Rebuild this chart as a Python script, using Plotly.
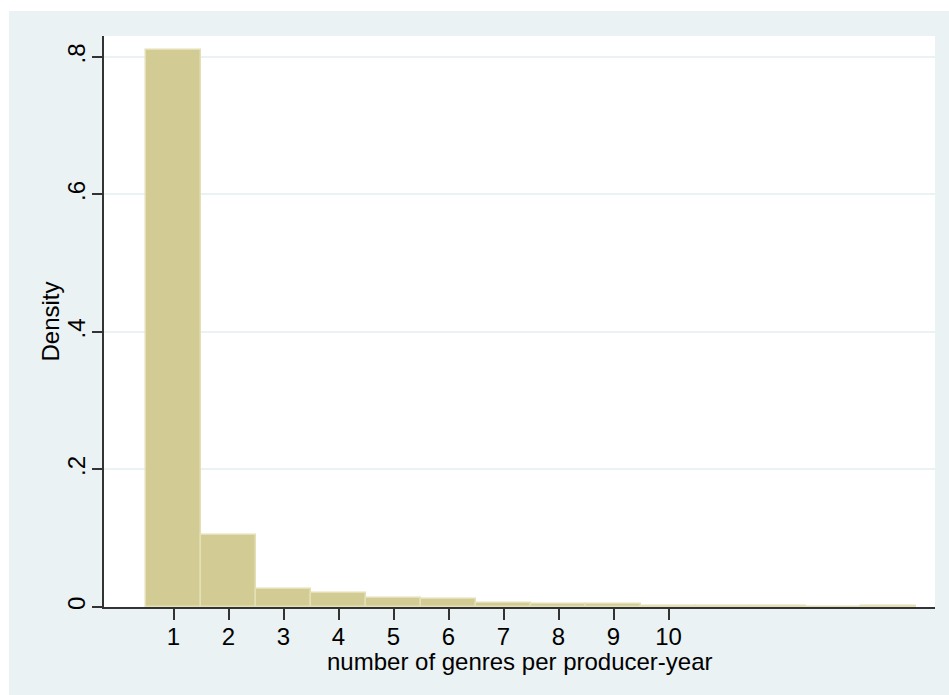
import plotly.graph_objects as go

# Histogram bins (number of genres) and densities
genres = [1, 2, 3, 4, 5, 6, 7, 8, 9, 10, 11, 12, 13, 14]
density = [0.810, 0.105, 0.0257, 0.0204, 0.0132, 0.0116, 0.0055, 0.0040, 0.0040,
           0.0020, 0.0020, 0.0020, 0.0, 0.0020]

x_tickvals = [1, 2, 3, 4, 5, 6, 7, 8, 9, 10]
x_ticktext = ["1", "2", "3", "4", "5", "6", "7", "8", "9", "10"]
y_tickvals = [0, 0.2, 0.4, 0.6, 0.8]
y_ticktext = ["0", ".2", ".4", ".6", ".8"]

x_title = "number of genres per producer-year"
y_title = "Density"

FONT = "Liberation Sans, Arial, Helvetica, sans-serif"
TEAL = "#EAF2F3"
AXIS = "#333333"
FS = 24

W, H = 949, 695
L = 104
T = 36
R = W - 935
B = H - 607
pw = W - L - R
ph = H - T - B


def px_to_paper_x(sx):
    return (sx - L) / pw


def px_to_paper_y(sy):
    return (H - B - sy) / ph


fig = go.Figure()
fig.add_trace(go.Bar(
    x=genres, y=density, width=1.0,
    marker=dict(color="#D2CB93", line=dict(color="#E4DFB4", width=1.5)),
    hoverinfo="x+y",
))

fig.update_layout(
    width=W, height=H,
    margin=dict(l=L, r=R, t=T, b=B, pad=0),
    paper_bgcolor="white",
    plot_bgcolor="rgba(0,0,0,0)",
    showlegend=False,
    bargap=0,
    font=dict(family=FONT, size=FS, color="black"),
    shapes=[
        dict(type="rect", xref="paper", yref="paper", layer="below",
             x0=px_to_paper_x(9), x1=1.2, y0=-0.3, y1=px_to_paper_y(11),
             fillcolor=TEAL, line=dict(width=0)),
        dict(type="rect", xref="paper", yref="paper", layer="below",
             x0=0, x1=1, y0=0, y1=1,
             fillcolor="white", line=dict(width=0)),
    ],
    annotations=[
        dict(text=x_title, xref="paper", yref="paper", x=0.5, y=px_to_paper_y(661),
             xanchor="center", yanchor="middle", showarrow=False,
             font=dict(family=FONT, size=FS, color="black")),
        dict(text=y_title, xref="paper", yref="paper", x=px_to_paper_x(50), y=0.5,
             xanchor="center", yanchor="middle", textangle=-90, showarrow=False,
             font=dict(family=FONT, size=FS, color="black")),
    ],
)

fig.update_xaxes(
    range=[-0.264, 14.845],
    tickvals=x_tickvals, ticktext=x_ticktext,
    ticks="outside", ticklen=11, tickwidth=1.5, tickcolor=AXIS,
    showline=True, linecolor=AXIS, linewidth=1.5,
    showgrid=False, zeroline=False,
    tickfont=dict(family=FONT, size=FS, color="black"),
    ticklabelstandoff=-4,
)
fig.update_yaxes(
    range=[0, 0.8305],
    tickvals=y_tickvals, ticktext=y_ticktext,
    ticks="outside", ticklen=10, tickwidth=1.5, tickcolor=AXIS,
    showline=True, linecolor=AXIS, linewidth=1.5,
    showgrid=True, gridcolor=TEAL, gridwidth=1.5,
    zeroline=False, tickangle=-90,
    tickfont=dict(family=FONT, size=FS, color="black"),
    ticklabelstandoff=-2,
)

fig.write_html(
    "out.html",
    config={"displayModeBar": False},
    post_script="document.body.style.margin='0';document.body.style.overflow='hidden';",
)
